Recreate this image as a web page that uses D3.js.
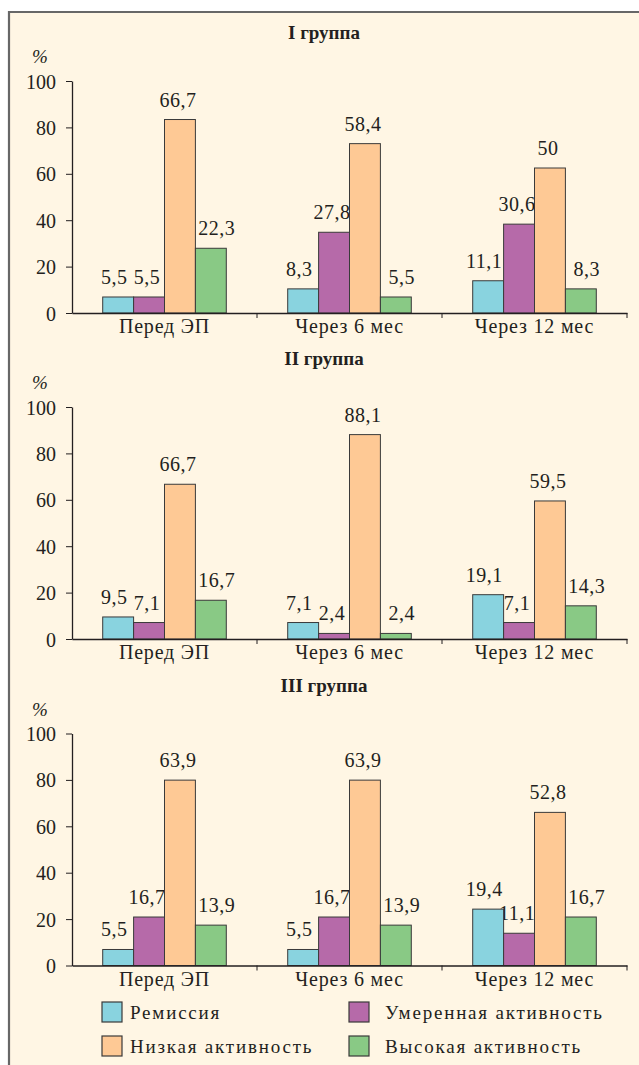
<!DOCTYPE html>
<html>
<head>
<meta charset="utf-8">
<script src="https://cdn.jsdelivr.net/npm/d3@7"></script>
<style>
  body { margin: 0; background: #fff; }
</style>
</head>
<body>
<div id="chart"></div>
<script>
// categories on the x axis
var categories = ["Перед ЭП", "Через 6 мес", "Через 12 мес"];
// legend / subgroups
var seriesNames = ["Ремиссия", "Умеренная активность", "Низкая активность", "Высокая активность"];
var seriesColors = ["#89d3df", "#b66aa9", "#fec995", "#89c985"];
var groupTitles = ["I группа", "II группа", "III группа"];
var yTicks = [0, 20, 40, 60, 80, 100];

// printed values (per category: remission, moderate, low, high)
var labelsI = [[5.5, 5.5, 66.7, 22.3], [8.3, 27.8, 58.4, 5.5], [11.1, 30.6, 50, 8.3]];
var labelsII = [[9.5, 7.1, 66.7, 16.7], [7.1, 2.4, 88.1, 2.4], [19.1, 7.1, 59.5, 14.3]];
var labelsIII = [[5.5, 16.7, 63.9, 13.9], [5.5, 16.7, 63.9, 13.9], [19.4, 11.1, 52.8, 16.7]];

// bar heights as they are drawn in the picture (groups I and III are not to scale)
var barsI = [[6.9, 6.9, 83.4, 27.9], [10.4, 34.8, 73, 6.9], [13.9, 38.3, 62.5, 10.4]];
var barsII = [[9.5, 7.1, 66.7, 16.7], [7.1, 2.4, 88.1, 2.4], [19.1, 7.1, 59.5, 14.3]];
var barsIII = [[6.9, 20.9, 79.9, 17.4], [6.9, 20.9, 79.9, 17.4], [24.3, 13.9, 66, 20.9]];

var panels = [
    { title: groupTitles[0], labels: labelsI, bars: barsI, top: 81 },
    { title: groupTitles[1], labels: labelsII, bars: barsII, top: 407 },
    { title: groupTitles[2], labels: labelsIII, bars: barsIII, top: 733.5 }
];

var W = 639, H = 1065;
var plotLeft = 72, plotRight = 627, plotH = 232;
var FONT = "Liberation Serif";
var INK = "#231f20";

var svg = d3.select("#chart")
    .append("svg")
    .attr("width", W)
    .attr("height", H)
    .attr("font-family", FONT);

// frame background
svg.append("rect")
    .attr("x", 9).attr("y", 12)
    .attr("width", W - 9).attr("height", H - 12)
    .attr("fill", "#fff6e4");
svg.append("line")
    .attr("x1", 8).attr("x2", W).attr("y1", 12).attr("y2", 12)
    .attr("stroke", "#676767").attr("stroke-width", 2.2);
svg.append("line")
    .attr("x1", 9).attr("x2", 9).attr("y1", 11).attr("y2", H)
    .attr("stroke", "#676767").attr("stroke-width", 2.2);

var x = d3.scaleBand()
    .domain(categories)
    .range([plotLeft, plotRight])
    .padding(0);

var xSubgroup = d3.scaleBand()
    .domain(seriesNames)
    .range([x.bandwidth() * 0.166, x.bandwidth() * 0.834])
    .padding(0);

var color = d3.scaleOrdinal()
    .domain(seriesNames)
    .range(seriesColors);

// small horizontal nudge of the value labels per series
var labelNudge = [-4, -2, -2, 6];

function fmt(v) { return String(v).replace(".", ","); }

panels.forEach(function (p) {
    var y = d3.scaleLinear()
        .domain([0, 100])
        .range([p.top + plotH, p.top]);

    var g = svg.append("g");

    // title
    g.append("text")
        .attr("x", 324)
        .attr("y", p.top - 42)
        .attr("text-anchor", "middle")
        .attr("font-family", FONT)
        .attr("font-weight", "bold")
        .attr("font-size", 19)
        .attr("fill", INK)
        .text(p.title);

    // % unit
    g.append("text")
        .attr("x", 32)
        .attr("y", p.top - 18)
        .attr("font-family", FONT)
        .attr("font-size", 19)
        .attr("font-style", "italic")
        .attr("fill", INK)
        .text("%");

    // Y axis
    var yAxis = g.append("g")
        .attr("transform", "translate(" + plotLeft + ",0)")
        .call(d3.axisLeft(y).tickValues(yTicks).tickSize(6).tickSizeOuter(0).tickPadding(10));
    yAxis.attr("font-family", FONT).attr("font-size", 20);
    yAxis.selectAll("text")
        .attr("fill", INK)
        .attr("dy", "0.35em");

    // value labels (drawn under the bars, as in the original)
    var rows = categories.map(function (c, ci) {
        return seriesNames.map(function (s, si) {
            return { cat: c, key: s, si: si, value: p.bars[ci][si], label: p.labels[ci][si] };
        });
    });

    var catG = g.append("g")
        .selectAll("g")
        .data(rows)
        .enter()
        .append("g")
        .attr("transform", function (d) { return "translate(" + x(d[0].cat) + ",0)"; });

    catG.selectAll("text")
        .data(function (d) { return d; })
        .enter().append("text")
        .attr("x", function (d) { return xSubgroup(d.key) + xSubgroup.bandwidth() / 2 + labelNudge[d.si]; })
        .attr("y", function (d) { return y(d.value) - 13; })
        .attr("text-anchor", "middle")
        .attr("font-family", FONT)
        .attr("font-size", 20)
        .attr("letter-spacing", 0.5)
        .attr("fill", INK)
        .text(function (d) { return fmt(d.label); });

    catG.selectAll("rect")
        .data(function (d) { return d; })
        .enter().append("rect")
        .attr("x", function (d) { return xSubgroup(d.key); })
        .attr("y", function (d) { return y(d.value); })
        .attr("width", xSubgroup.bandwidth())
        .attr("height", function (d) { return y(0) - y(d.value); })
        .attr("fill", function (d) { return color(d.key); })
        .attr("stroke", "#3a3a3a")
        .attr("stroke-width", 1);

    // X axis
    var xAxis = g.append("g")
        .attr("transform", "translate(0," + y(0) + ")")
        .call(d3.axisBottom(x).tickSize(0).tickSizeOuter(0).tickPadding(6));
    xAxis.attr("font-family", FONT).attr("font-size", 20);
    xAxis.selectAll("text")
        .attr("letter-spacing", 0.8)
        .attr("fill", INK);

    // category boundary ticks
    xAxis.selectAll(".bound")
        .data(categories)
        .enter().append("line")
        .attr("x1", function (d) { return x(d) + x.bandwidth(); })
        .attr("x2", function (d) { return x(d) + x.bandwidth(); })
        .attr("y1", 0).attr("y2", 5)
        .attr("stroke", INK);

    g.selectAll(".domain").attr("stroke", INK).attr("stroke-width", 1.3);
    g.selectAll(".tick line").attr("stroke", INK);
});

// Legend
var legend = svg.append("g")
    .selectAll("g")
    .data(seriesNames)
    .enter()
    .append("g")
    .attr("transform", function (d, i) {
        var cx = (i % 2 === 0) ? 102 : 349;
        var cy = 1002 + Math.floor(i / 2) * 34;
        return "translate(" + cx + "," + cy + ")";
    });

legend.append("rect")
    .attr("width", 20)
    .attr("height", 20)
    .attr("fill", function (d) { return color(d); })
    .attr("stroke", "#3a3a3a")
    .attr("stroke-width", 1.2);

legend.append("text")
    .attr("x", function (d, i) { return i % 2 === 0 ? 28 : 36; })
    .attr("y", 17)
    .attr("font-family", FONT)
    .attr("font-size", 19)
    .attr("letter-spacing", 1.8)
    .attr("fill", INK)
    .text(function (d) { return d; });
</script>
</body>
</html>
